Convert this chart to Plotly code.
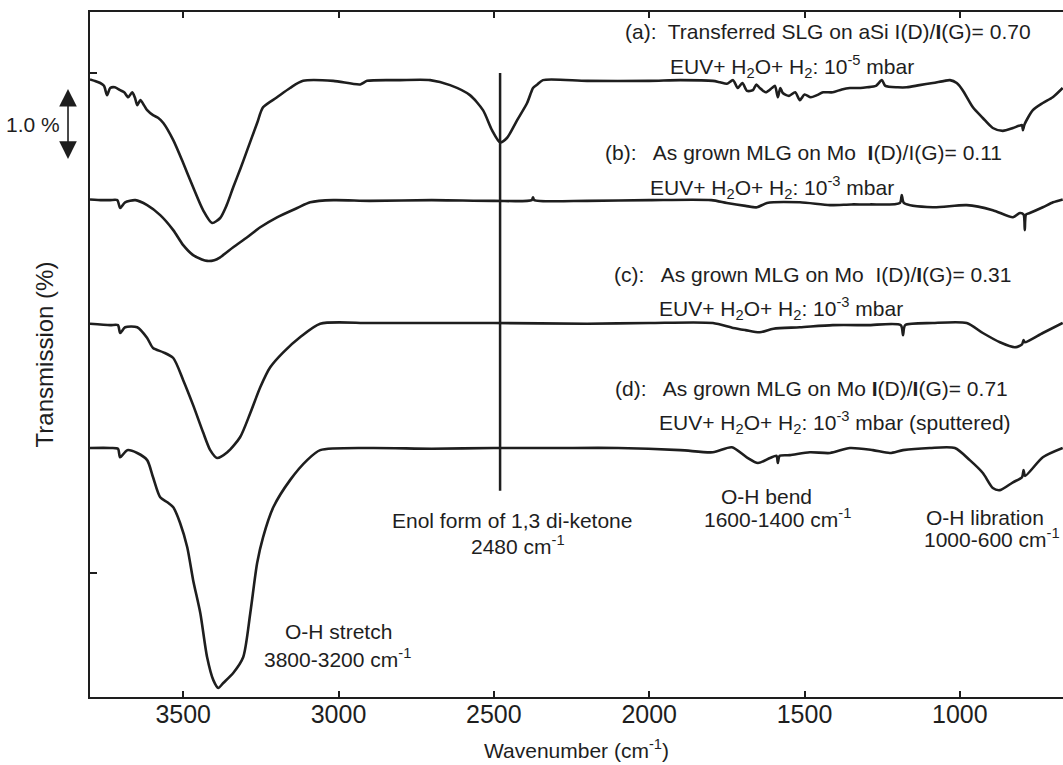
import plotly.graph_objects as go

# FTIR transmission spectra, stacked with vertical offsets (units: % transmission)
# Each trace: wavenumber (cm^-1) and transmission change relative to its baseline.

wn_a = [3800, 3785, 3767, 3755, 3745, 3735, 3720, 3703, 3690, 3677, 3664, 3655, 3648, 3638,
        3625, 3616, 3597, 3580, 3564, 3532, 3500, 3468, 3436, 3407, 3381, 3360, 3339, 3315,
        3294, 3262, 3243, 3198, 3156, 3114, 3017, 2930, 2908, 2802, 2705, 2641, 2577, 2535,
        2506, 2480, 2458, 2425, 2393, 2380, 2374, 2360, 2342, 2200, 2000, 1900, 1795, 1772,
        1750, 1730, 1715, 1700, 1685, 1666, 1655, 1644, 1625, 1605, 1595, 1586, 1578, 1570,
        1550, 1530, 1515, 1500, 1480, 1460, 1440, 1409, 1380, 1354, 1320, 1299, 1270, 1251,
        1240, 1200, 1171, 1130, 1087, 1050, 1032, 1010, 991, 958, 926, 894, 862, 829, 810,
        800, 797, 792, 765, 733, 701, 669]
tr_a = [0.01, -0.01, -0.04, -0.08, -0.21, -0.11, -0.10, -0.14, -0.17, -0.24, -0.17, -0.25, -0.35, -0.28,
        -0.36, -0.42, -0.49, -0.53, -0.60, -0.84, -1.16, -1.50, -1.82, -2.00, -1.93, -1.75, -1.50, -1.23,
        -0.98, -0.60, -0.38, -0.24, -0.11, -0.01, -0.01, -0.06, -0.01, 0.00, 0.00, -0.07, -0.21, -0.42,
        -0.70, -0.87, -0.81, -0.56, -0.32, -0.17, -0.11, -0.06, 0.00, -0.01, -0.01, 0.00, -0.01, -0.03,
        -0.05, 0.00, -0.11, -0.04, -0.15, -0.14, -0.06, -0.11, -0.17, -0.11, -0.08, -0.24, -0.11, -0.18,
        -0.22, -0.17, -0.28, -0.20, -0.24, -0.21, -0.17, -0.17, -0.13, -0.11, -0.11, -0.10, -0.08, 0.00,
        -0.08, -0.10, -0.10, -0.07, -0.04, -0.01, 0.00, -0.04, -0.14, -0.38, -0.53, -0.67, -0.71, -0.67, -0.64,
        -0.63, -0.70, -0.62, -0.42, -0.32, -0.24, -0.11]

wn_b = [3800, 3760, 3735, 3712, 3703, 3687, 3654, 3616, 3574, 3532, 3500, 3468, 3440, 3423,
        3400, 3381, 3339, 3294, 3252, 3198, 3133, 3091, 3017, 2900, 2700, 2500, 2378, 2374,
        2370, 2200, 2000, 1800, 1750, 1690, 1653, 1621, 1515, 1418, 1350, 1290, 1193, 1187,
        1180, 1087, 978, 894, 829, 807, 795, 791, 787, 775, 733, 700, 669]
tr_b = [0.01, 0.00, 0.00, 0.00, -0.11, -0.03, 0.00, -0.07, -0.21, -0.42, -0.63, -0.77, -0.83, -0.85,
        -0.84, -0.80, -0.66, -0.52, -0.38, -0.24, -0.11, -0.03, 0.00, -0.01, 0.00, -0.01, 0.00, 0.04,
        0.00, -0.01, 0.00, 0.00, -0.04, -0.08, -0.10, -0.04, -0.03, -0.07, -0.06, -0.06, -0.04, 0.07,
        -0.04, -0.10, -0.07, -0.14, -0.24, -0.18, -0.20, -0.42, -0.20, -0.18, -0.10, -0.03, 0.01]

wn_c = [3800, 3735, 3710, 3703, 3687, 3648, 3616, 3597, 3564, 3532, 3500, 3468, 3436, 3413,
        3391, 3358, 3317, 3284, 3252, 3220, 3178, 3124, 3059, 2900, 2700, 2500, 2200, 2000,
        1795, 1730, 1690, 1644, 1600, 1515, 1409, 1299, 1190, 1183, 1176, 1087, 978, 926,
        871, 823, 800, 795, 791, 733, 669]
tr_c = [-0.01, -0.03, -0.03, -0.14, -0.06, -0.06, -0.21, -0.35, -0.41, -0.49, -0.80, -1.15, -1.53, -1.78,
        -1.89, -1.81, -1.60, -1.26, -0.90, -0.62, -0.41, -0.20, -0.01, 0.00, 0.00, 0.00, -0.01, 0.00,
        0.00, -0.07, -0.10, -0.13, -0.08, -0.06, -0.03, -0.03, -0.03, -0.17, -0.03, 0.00, 0.00, -0.14,
        -0.27, -0.34, -0.30, -0.24, -0.27, -0.14, 0.00]

wn_d = [3800, 3735, 3710, 3703, 3680, 3648, 3616, 3597, 3574, 3551, 3532, 3510, 3487, 3468,
        3445, 3423, 3403, 3387, 3371, 3339, 3307, 3284, 3262, 3243, 3210, 3156, 3101, 3059,
        2900, 2700, 2500, 2300, 2100, 1900, 1795, 1734, 1686, 1650, 1611, 1590, 1586, 1580,
        1547, 1483, 1418, 1354, 1280, 1225, 1183, 1097, 1016, 968, 926, 894, 871, 829,
        800, 795, 790, 733, 669]
tr_d = [0.00, 0.00, -0.01, -0.13, -0.03, -0.07, -0.17, -0.41, -0.69, -0.76, -0.83, -1.05, -1.39, -1.85,
        -2.31, -2.93, -3.25, -3.36, -3.29, -3.15, -2.93, -2.31, -1.61, -1.25, -0.83, -0.45, -0.17, -0.03,
        0.00, -0.01, 0.00, 0.00, 0.00, -0.03, -0.06, 0.01, -0.13, -0.21, -0.14, -0.11, -0.21, -0.11,
        -0.10, -0.06, -0.07, 0.00, -0.03, -0.07, -0.03, 0.00, 0.00, -0.17, -0.35, -0.56, -0.59, -0.48,
        -0.41, -0.31, -0.39, -0.13, 0.00]

# vertical offsets of the stacked spectra (a)..(d)
offsets = [6.90, 5.22, 3.50, 1.75]

enol_wn = 2480
enol_y = [7.0, 1.15]
scale_bar = 1.0          # length of the "1.0 %" bar
scale_top = 6.776

x_ticks = [3500, 3000, 2500, 2000, 1500, 1000]
y_ticks = [0, 7]

FONT = "Liberation Sans, Arial, Helvetica, sans-serif"
INK = "#1e1e1e"

fig = go.Figure()
for wn, tr, off in zip([wn_a, wn_b, wn_c, wn_d], [tr_a, tr_b, tr_c, tr_d], offsets):
    fig.add_trace(go.Scatter(
        x=wn, y=[v + off for v in tr], mode="lines",
        line=dict(color=INK, width=2.6, shape="spline", smoothing=0.7),
        showlegend=False, hoverinfo="skip"))

# marker line for the enol band
fig.add_trace(go.Scatter(x=[enol_wn, enol_wn], y=enol_y, mode="lines",
                         line=dict(color=INK, width=2.5), showlegend=False, hoverinfo="skip"))

ann_font = dict(family=FONT, size=21, color=INK)
I_b = "<b>I</b>"
labels = [
    ("(a):  Transferred SLG on aSi I(D)/" + I_b + "(G)= 0.70", 2084, 7.588),
    ("EUV+ H<sub>2</sub>O+ H<sub>2</sub>: 10<sup>-5</sup> mbar", 1940, 7.098),
    ("(b):   As grown MLG on Mo  " + I_b + "(D)/I(G)= 0.11", 2149, 5.894),
    ("EUV+ H<sub>2</sub>O+ H<sub>2</sub>: 10<sup>-3</sup> mbar", 2004, 5.404),
    ("(c):   As grown MLG on Mo  I(D)/" + I_b + "(G)= 0.31", 2120, 4.186),
    ("EUV+ H<sub>2</sub>O+ H<sub>2</sub>: 10<sup>-3</sup> mbar", 1975, 3.710),
    ("(d):   As grown MLG on Mo " + I_b + "(D)/" + I_b + "(G)= 0.71", 2117, 2.590),
    ("EUV+ H<sub>2</sub>O+ H<sub>2</sub>: 10<sup>-3</sup> mbar (sputtered)", 1975, 2.114),
]
for text, x, y in labels:
    fig.add_annotation(x=x, y=y, text=text, showarrow=False, xanchor="left",
                       yanchor="middle", font=ann_font)

band_labels = [
    ("Enol form of 1,3 di-ketone", 2441, 0.742),
    ("2480 cm<sup>-1</sup>", 2422, 0.392),
    ("O-H bend", 1624, 1.078),
    ("1600-1400 cm<sup>-1</sup>", 1586, 0.77),
    ("O-H libration", 920, 0.784),
    ("1000-600 cm<sup>-1</sup>", 897, 0.49),
    ("O-H stretch", 3001, -0.812),
    ("3800-3200 cm<sup>-1</sup>", 3004, -1.19),
]
for text, x, y in band_labels:
    fig.add_annotation(x=x, y=y, text=text, showarrow=False, xanchor="center",
                       yanchor="middle", font=ann_font)

# 1.0 % scale bar
fig.add_annotation(xref="paper", yref="y", x=-0.0226, y=scale_top,
                   axref="pixel", ayref="y", ax=0, ay=scale_top - scale_bar,
                   text="", showarrow=True, arrowhead=2, arrowside="end+start",
                   arrowsize=2.2, arrowwidth=1.6, arrowcolor=INK, standoff=0, startstandoff=0)
fig.add_annotation(xref="paper", yref="y", x=-0.0288, y=scale_top - scale_bar / 2,
                   text="1.0 %", showarrow=False, xanchor="right", yanchor="middle",
                   font=ann_font)

fig.update_layout(
    width=1063, height=765,
    margin=dict(l=90, r=0, t=12, b=68),
    paper_bgcolor="white", plot_bgcolor="white",
    font=dict(family=FONT, color=INK),
    xaxis=dict(
        range=[3800, 668], tickvals=x_ticks, ticks="inside", ticklen=6, tickwidth=1.5,
        tickcolor=INK, showline=True, linecolor=INK, linewidth=2, mirror="ticks",
        showgrid=False, zeroline=False, tickfont=dict(family=FONT, size=25, color=INK),
        ticklabelstandoff=-6,
        title=dict(text="Wavenumber (cm<sup>-1</sup>)", font=dict(family=FONT, size=21, color=INK),
                   standoff=16),
    ),
    yaxis=dict(
        range=[-1.736, 7.854], tickvals=y_ticks, showticklabels=False, ticks="inside",
        ticklen=7, tickwidth=1.5, tickcolor=INK, showline=True, linecolor=INK, linewidth=2,
        mirror=False, showgrid=False, zeroline=False,
        title=dict(text="Transmission (%)", font=dict(family=FONT, size=24, color=INK),
                   standoff=28),
    ),
)

fig.write_html("out.html")
